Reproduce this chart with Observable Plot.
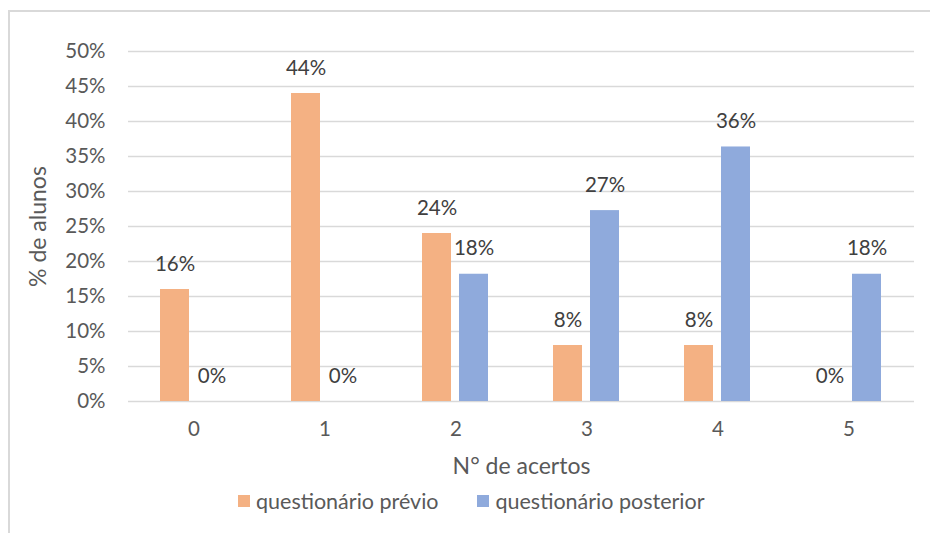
<!DOCTYPE html>
<html>
<head>
<meta charset="utf-8">
<script src="https://cdn.jsdelivr.net/npm/d3@7"></script>
<script src="https://cdn.jsdelivr.net/npm/@observablehq/plot@0.6"></script>
<style>
  html, body { margin: 0; padding: 0; background: #fff; }
  body { width: 930px; height: 533px; position: relative; overflow: hidden; font-family: Lato, "Open Sans", sans-serif; }
  #frame { position: absolute; left: 8px; top: 10px; width: 940px; height: 540px; border-left: 2px solid #d9d9d9; border-top: 2px solid #d9d9d9; box-sizing: border-box; }
  #chart { position: absolute; left: 0; top: 0; }
  #chart g[aria-label="y-axis label"] text, #chart g[aria-label="fx-axis label"] text { font-size: 23px; }
  #legend { position: absolute; left: 238px; top: 488px; display: flex; align-items: center; font-size: 21.5px; color: #595959; white-space: nowrap; }
  .item { display: flex; align-items: center; margin-right: 39px; }
  .sw { width: 12px; height: 12px; margin-right: 6px; }
</style>
</head>
<body>
<div id="frame"></div>
<div id="chart"></div>
<div id="legend"></div>
<script>
const categories = ["0", "1", "2", "3", "4", "5"];
const seriesNames = ["questionário prévio", "questionário posterior"];
const previo = [0.16, 0.44, 0.24, 0.08, 0.08, 0.00];
const posterior = [0.00, 0.00, 0.1818, 0.2727, 0.3636, 0.1818];
const colors = ["#F4B183", "#8FAADC"];
const yTicks = [0, 0.05, 0.10, 0.15, 0.20, 0.25, 0.30, 0.35, 0.40, 0.45, 0.50];

const data = [];
categories.forEach((c, i) => {
  data.push({cat: c, serie: seriesNames[0], value: previo[i]});
  data.push({cat: c, serie: seriesNames[1], value: posterior[i]});
});

const fmt = d3.format(".0%");

const chart = Plot.plot({
  width: 930,
  height: 485,
  marginLeft: 128,
  marginRight: 16,
  marginTop: 51,
  marginBottom: 84,
  style: {fontFamily: "Lato, 'Open Sans', sans-serif", fontSize: "20.5px", color: "#595959", background: "transparent"},
  fx: {domain: categories, padding: 0},
  x: {domain: seriesNames, paddingInner: 0.213, paddingOuter: 0.853, axis: null},
  y: {domain: [0, 0.5], range: [401, 51]},
  color: {domain: seriesNames, range: colors},
  marks: [
    Plot.gridY(yTicks, {stroke: "#d9d9d9", strokeOpacity: 1, strokeWidth: 1.5}),
    Plot.axisY(yTicks, {tickSize: 0, tickPadding: 23, tickFormat: fmt, label: "% de alunos", labelAnchor: "center", labelArrow: "none", labelOffset: 99, fontSize: 20.5}),
    Plot.axisFx({anchor: "bottom", tickSize: 0, tickPadding: 20, label: "N° de acertos", labelAnchor: "center", labelArrow: "none", labelOffset: 72, fontSize: 20.5}),
    Plot.barY(data, {fx: "cat", x: "serie", y: "value", fill: "serie"}),
    Plot.text(data, {fx: "cat", x: "serie", y: "value", text: d => fmt(d.value), dy: -19, lineAnchor: "bottom", fill: "#404040", fontSize: 20.5})
  ]
});
document.getElementById("chart").appendChild(chart);

const legend = document.getElementById("legend");
seriesNames.forEach((s, i) => {
  const item = document.createElement("div");
  item.className = "item";
  const sw = document.createElement("div");
  sw.className = "sw";
  sw.style.background = colors[i];
  const t = document.createElement("span");
  t.textContent = s;
  item.appendChild(sw);
  item.appendChild(t);
  legend.appendChild(item);
});
</script>
</body>
</html>
